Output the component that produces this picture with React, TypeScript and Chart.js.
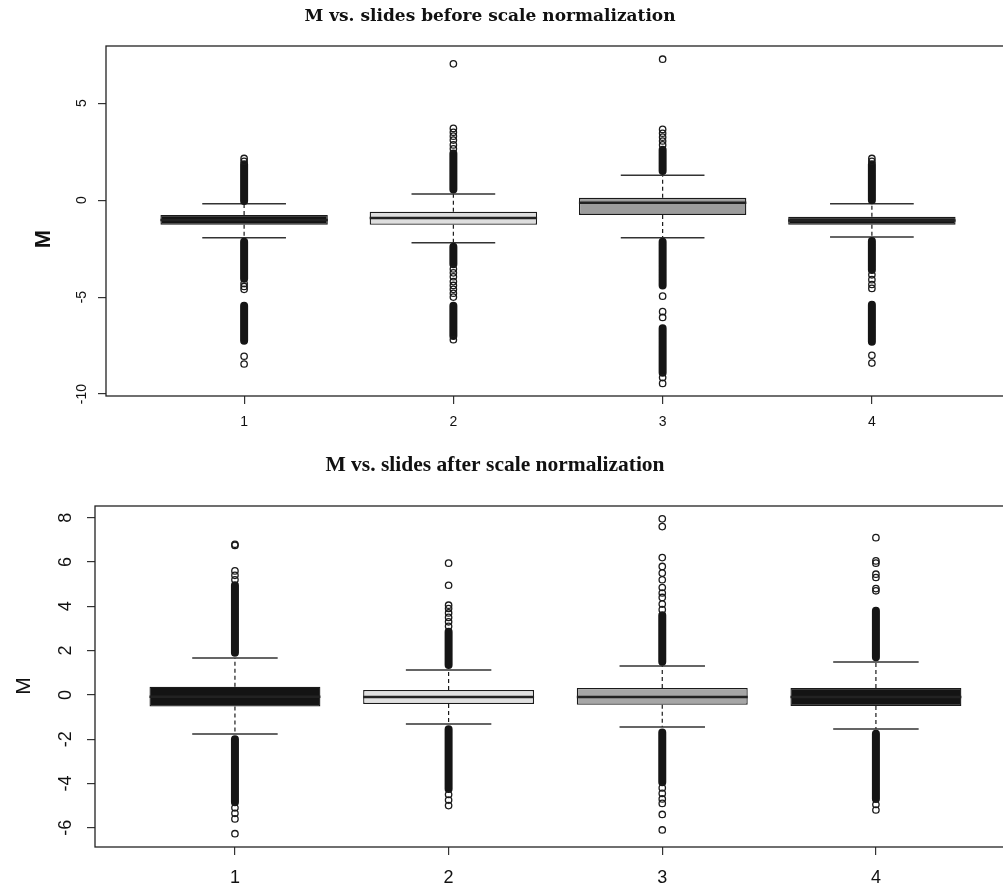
import React, { useEffect, useRef } from "react";
import { Chart, registerables } from "chart.js";

Chart.register(...registerables);

// Slides on the x axis
const slides = [1, 2, 3, 4];
const slideLabels = ["1", "2", "3", "4"];

// ---- M vs. slides before scale normalization ----
const beforeQ1 = [-1.27, -1.27, -0.76, -1.27];
const beforeMedian = [-1.02, -0.92, -0.14, -1.05];
const beforeQ3 = [-0.76, -0.6, 0.12, -0.86];
const beforeWhiskerLow = [-1.94, -2.2, -1.94, -1.9];
const beforeWhiskerHigh = [-0.19, 0.32, 1.29, -0.19];
// runs of overlapping outliers, [from, to] per slide
const beforeOutlierRuns: number[][][] = [
  [[-0.05, 1.85], [-2.15, -4.05], [-5.45, -7.25]],
  [[0.55, 2.4], [-2.4, -3.3], [-5.45, -7.0]],
  [[1.5, 2.6], [-2.15, -4.4], [-6.6, -8.9]],
  [[0.0, 1.85], [-2.1, -3.6], [-5.4, -7.3]],
];
// separate outliers per slide
const beforeOutliers: number[][] = [
  [2.0, 2.15, -4.3, -4.45, -4.6, -8.05, -8.45],
  [2.65, 2.85, 3.1, 3.3, 3.5, 3.7, 7.03, -3.55, -3.75, -3.95, -4.2, -4.4, -4.6, -4.8, -5.0, -7.2],
  [2.85, 3.05, 3.25, 3.45, 3.65, 7.27, -4.95, -5.75, -6.05, -9.15, -9.45],
  [2.0, 2.15, -3.85, -4.1, -4.35, -4.55, -8.0, -8.4],
];
const beforeYTicks = [-10, -5, 0, 5];
const beforeYTickLabels = ["-10", "-5", "0", "5"];
const beforeFill = ["#141414", "#dedede", "#9c9c9c", "#141414"];

// ---- M vs. slides after scale normalization ----
const afterQ1 = [-0.53, -0.41, -0.45, -0.5];
const afterMedian = [-0.08, -0.1, -0.1, -0.1];
const afterQ3 = [0.37, 0.22, 0.31, 0.31];
const afterWhiskerLow = [-1.77, -1.31, -1.45, -1.54];
const afterWhiskerHigh = [1.67, 1.12, 1.3, 1.49];
const afterOutlierRuns: number[][][] = [
  [[1.9, 4.95], [-2.0, -4.85]],
  [[1.35, 2.85], [-1.55, -4.25]],
  [[1.5, 3.6], [-1.7, -3.95]],
  [[1.7, 3.8], [-1.75, -4.7]],
];
const afterOutliers: number[][] = [
  [5.2, 5.4, 5.6, 6.75, 6.8, -5.1, -5.35, -5.6, -6.27],
  [3.1, 3.3, 3.5, 3.7, 3.9, 4.05, 4.95, 5.95, -4.5, -4.75, -5.0],
  [3.85, 4.1, 4.4, 4.6, 4.85, 5.2, 5.5, 5.8, 6.2, 7.6, 7.95, -4.2, -4.45, -4.7, -4.9, -5.4, -6.1],
  [4.7, 4.8, 5.3, 5.45, 5.95, 6.05, 7.1, -4.95, -5.2],
];
const afterYTicks = [-6, -4, -2, 0, 2, 4, 6, 8];
const afterYTickLabels = ["-6", "-4", "-2", "0", "2", "4", "6", "8"];
const afterFill = ["#141414", "#e0e0e0", "#a6a6a6", "#141414"];

type Pt = { x: number; y: number | null };

const INK = "#1a1a1a";

function buildDatasets(
  q1: number[],
  med: number[],
  q3: number[],
  wLo: number[],
  wHi: number[],
  runs: number[][][],
  singles: number[][],
  fills: string[]
): any[] {
  const gap = (x: number): Pt => ({ x, y: null });
  const lineBase = { type: "line", pointRadius: 0, tension: 0, fill: false, spanGaps: false };
  return [
    {
      type: "bar",
      data: slides.map((s, i) => ({ x: s, y: [q1[i], q3[i]] })),
      backgroundColor: fills,
      borderColor: INK,
      borderWidth: 1.3,
      borderSkipped: false,
      barPercentage: 0.8,
      categoryPercentage: 1,
      order: 5,
    },
    {
      ...lineBase,
      data: slides.flatMap((s, i) => [
        { x: s, y: q3[i] }, { x: s, y: wHi[i] }, gap(s),
        { x: s, y: q1[i] }, { x: s, y: wLo[i] }, gap(s),
      ]),
      borderColor: INK,
      borderWidth: 1.2,
      borderDash: [4, 3],
      order: 4,
    },
    {
      ...lineBase,
      data: slides.flatMap((s, i) => [
        { x: s - 0.2, y: wHi[i] }, { x: s + 0.2, y: wHi[i] }, gap(s),
        { x: s - 0.2, y: wLo[i] }, { x: s + 0.2, y: wLo[i] }, gap(s),
      ]),
      borderColor: "#333",
      borderWidth: 1.5,
      order: 3,
    },
    {
      ...lineBase,
      data: slides.flatMap((s, i) => [
        { x: s - 0.4, y: med[i] }, { x: s + 0.4, y: med[i] }, gap(s),
      ]),
      borderColor: "#222",
      borderWidth: 2.5,
      order: 2,
    },
    {
      ...lineBase,
      data: slides.flatMap((s, i) =>
        runs[i].flatMap(([a, b]) => [{ x: s, y: a }, { x: s, y: b }, gap(s)])
      ),
      borderColor: "#151515",
      borderWidth: 8,
      borderCapStyle: "round",
      order: 1,
    },
    {
      type: "line",
      showLine: false,
      data: slides.flatMap((s, i) => singles[i].map((v) => ({ x: s, y: v }))),
      pointRadius: 3.2,
      pointBorderWidth: 1.3,
      pointBorderColor: INK,
      pointBackgroundColor: "rgba(255,255,255,0)",
      order: 0,
    },
  ];
}

type PanelSpec = {
  title: string;
  titleFont: string;
  titleX: number;
  titleY: number;
  tickFont: string;
  tickX: number;
  yTickLabels: string[];
  axisFont: string;
  axisX: number;
  axisY: number;
};

function panelPlugins(spec: PanelSpec) {
  const frame = {
    id: "frame",
    afterDatasetsDraw(chart: any) {
      const { ctx, chartArea } = chart;
      ctx.save();
      ctx.strokeStyle = "#222";
      ctx.lineWidth = 1.3;
      ctx.strokeRect(chartArea.left, chartArea.top, chartArea.right - chartArea.left, chartArea.bottom - chartArea.top);
      ctx.restore();
    },
  };
  const texts = {
    id: "texts",
    afterDraw(chart: any) {
      const { ctx, scales } = chart;
      ctx.save();
      ctx.fillStyle = "#111";
      ctx.textAlign = "center";
      ctx.textBaseline = "middle";
      ctx.font = spec.titleFont;
      ctx.fillText(spec.title, spec.titleX, spec.titleY);
      ctx.font = spec.tickFont;
      scales.y.ticks.forEach((t: any, i: number) => {
        const y = scales.y.getPixelForValue(t.value);
        ctx.save();
        ctx.translate(spec.tickX, y);
        ctx.rotate(-Math.PI / 2);
        ctx.fillText(spec.yTickLabels[i], 0, 0);
        ctx.restore();
      });
      ctx.font = spec.axisFont;
      ctx.translate(spec.axisX, spec.axisY);
      ctx.rotate(-Math.PI / 2);
      ctx.fillText("M", 0, 0);
      ctx.restore();
    },
  };
  return [frame, texts];
}

function makeConfig(opts: {
  datasets: any[];
  yMin: number;
  yMax: number;
  yTicks: number[];
  xMin: number;
  xMax: number;
  yWidth: number;
  xHeight: number;
  padTop: number;
  padRight: number;
  xFontSize: number;
  xPadding: number;
  spec: PanelSpec;
}): any {
  return {
    type: "bar",
    data: { datasets: opts.datasets },
    options: {
      responsive: false,
      animation: false,
      devicePixelRatio: 1,
      events: [],
      layout: { padding: { top: opts.padTop, right: opts.padRight, left: 0, bottom: 0 } },
      plugins: { legend: { display: false }, tooltip: { enabled: false }, title: { display: false } },
      scales: {
        x: {
          type: "linear",
          min: opts.xMin,
          max: opts.xMax,
          offset: false,
          afterBuildTicks: (s: any) => {
            s.ticks = slides.map((v) => ({ value: v }));
          },
          afterFit: (s: any) => {
            s.height = opts.xHeight;
          },
          grid: { display: true, offset: false, drawOnChartArea: false, drawTicks: true, tickLength: 8, color: "#333", lineWidth: 1.2 },
          border: { display: false },
          ticks: {
            autoSkip: false,
            maxRotation: 0,
            padding: opts.xPadding,
            color: "#111",
            font: { family: "Liberation Sans", size: opts.xFontSize },
            callback: (_v: any, i: number) => slideLabels[i],
          },
        },
        y: {
          type: "linear",
          min: opts.yMin,
          max: opts.yMax,
          afterBuildTicks: (s: any) => {
            s.ticks = opts.yTicks.map((v) => ({ value: v }));
          },
          afterFit: (s: any) => {
            s.width = opts.yWidth;
          },
          grid: { display: true, offset: false, drawOnChartArea: false, drawTicks: true, tickLength: 8, color: "#333", lineWidth: 1.2 },
          border: { display: false },
          ticks: { display: false },
        },
      },
    },
    plugins: panelPlugins(opts.spec),
  };
}

export default function App() {
  const topRef = useRef<HTMLCanvasElement>(null);
  const bottomRef = useRef<HTMLCanvasElement>(null);

  useEffect(() => {
    const top = new Chart(
      topRef.current as HTMLCanvasElement,
      makeConfig({
        datasets: buildDatasets(beforeQ1, beforeMedian, beforeQ3, beforeWhiskerLow, beforeWhiskerHigh, beforeOutlierRuns, beforeOutliers, beforeFill),
        yMin: -10.1,
        yMax: 7.95,
        yTicks: beforeYTicks,
        xMin: 0.34,
        xMax: 4.66,
        yWidth: 106,
        xHeight: 44,
        padTop: 46,
        padRight: 20,
        xFontSize: 14,
        xPadding: 10,
        spec: {
          title: "M vs. slides before scale normalization",
          titleFont: 'bold 17px "DejaVu Serif"',
          titleX: 490,
          titleY: 17,
          tickFont: '14px "Liberation Sans"',
          tickX: 82,
          yTickLabels: beforeYTickLabels,
          axisFont: 'bold 22px "Liberation Sans"',
          axisX: 44,
          axisY: 239,
        },
      })
    );
    const bottom = new Chart(
      bottomRef.current as HTMLCanvasElement,
      makeConfig({
        datasets: buildDatasets(afterQ1, afterMedian, afterQ3, afterWhiskerLow, afterWhiskerHigh, afterOutlierRuns, afterOutliers, afterFill),
        yMin: -6.87,
        yMax: 8.53,
        yTicks: afterYTicks,
        xMin: 0.345,
        xMax: 4.665,
        yWidth: 95,
        xHeight: 42,
        padTop: 66,
        padRight: 12,
        xFontSize: 18,
        xPadding: 12,
        spec: {
          title: "M vs. slides after scale normalization",
          titleFont: 'bold 21.5px "Liberation Serif"',
          titleX: 495,
          titleY: 25,
          tickFont: '18px "Liberation Sans"',
          tickX: 66,
          yTickLabels: afterYTickLabels,
          axisFont: '21px "Liberation Sans"',
          axisX: 24,
          axisY: 246,
        },
      })
    );
    return () => {
      top.destroy();
      bottom.destroy();
    };
  }, []);

  return (
    <div style={{ position: "absolute", left: 0, top: 0, width: 1003, height: 889, overflow: "hidden", background: "#fff" }}>
      <canvas ref={topRef} width={1030} height={440} style={{ position: "absolute", left: 0, top: 0, width: 1030, height: 440 }} />
      <canvas ref={bottomRef} width={1030} height={449} style={{ position: "absolute", left: 0, top: 440, width: 1030, height: 449 }} />
    </div>
  );
}
